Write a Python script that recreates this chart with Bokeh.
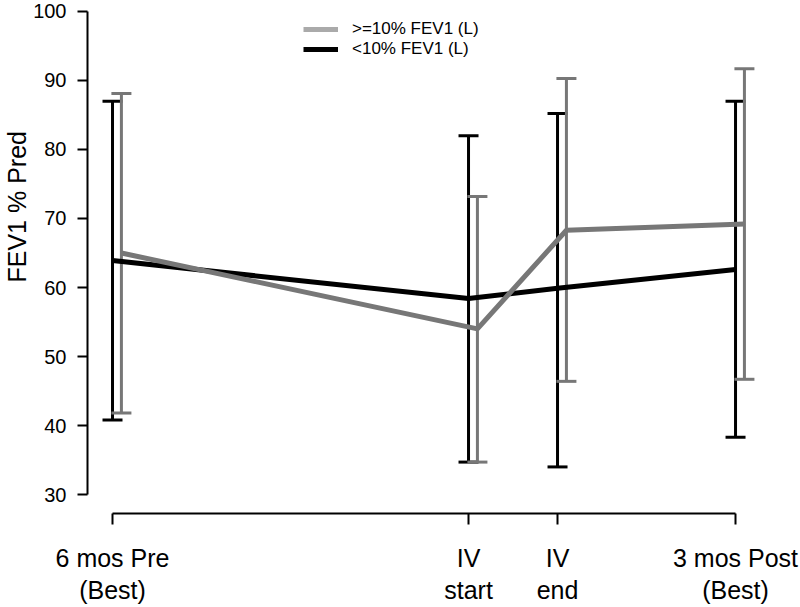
import math
from bokeh.plotting import figure
from bokeh.models import (ColumnDataSource, Whisker, TeeHead, FixedTicker, Legend,
                          LegendItem, Range1d, Title)
from bokeh.embed import file_html
from bokeh.resources import INLINE

# ---- data ----
time_pos = [0, 4, 5, 7]
tick_labels = ["6 mos Pre\n(Best)", "IV\nstart", "IV\nend", "3 mos Post\n(Best)"]
y_ticks = [30, 40, 50, 60, 70, 80, 90, 100]

low_mean = [63.9, 58.4, 59.9, 62.6]      # <10% FEV1 (L)
low_upper = [87.0, 82.0, 85.2, 87.0]
low_lower = [40.8, 34.7, 34.0, 38.3]

high_mean = [65.0, 54.0, 68.3, 69.2]     # >=10% FEV1 (L)
high_upper = [88.1, 73.2, 90.3, 91.7]
high_lower = [41.8, 34.7, 46.4, 46.7]

dodge = 0.1
FONT = "Liberation Sans"
GRAY = "#777777"
GRAY_LEG = "#aaaaaa"
NAN = float("nan")

p = figure(width=800, height=607, output_backend="svg", toolbar_location=None,
           x_range=Range1d(-0.281, 7.73), y_range=Range1d(27.25, 101.59),
           min_border_left=87, min_border_right=0, min_border_top=0, min_border_bottom=94)
p.xgrid.visible = False
p.ygrid.visible = False
p.outline_line_color = None
p.background_fill_color = "white"

src_low = ColumnDataSource(dict(x=time_pos, m=low_mean, up=low_upper, lo=low_lower))
src_high = ColumnDataSource(dict(x=[t + dodge for t in time_pos], m=high_mean,
                                 up=high_upper, lo=high_lower))

for src, col in ((src_low, "black"), (src_high, GRAY)):
    w = Whisker(source=src, base="x", upper="up", lower="lo", dimension="height",
                line_color=col, line_width=3,
                upper_head=TeeHead(size=20, line_color=col, line_width=3),
                lower_head=TeeHead(size=20, line_color=col, line_width=3))
    w.level = "underlay"
    p.add_layout(w)

p.line("x", "m", source=src_low, line_color="black", line_width=5)
p.line("x", "m", source=src_high, line_color=GRAY, line_width=5)

# legend proxies (nothing drawn in the plot area)
leg_high = p.line(x=[NAN], y=[NAN], line_color=GRAY_LEG, line_width=5)
leg_low = p.line(x=[NAN], y=[NAN], line_color="black", line_width=5)
legend = Legend(items=[LegendItem(label=">=10% FEV1 (L)", renderers=[leg_high]),
                       LegendItem(label="<10% FEV1 (L)", renderers=[leg_low])],
                location=(216, 454), border_line_color=None, background_fill_alpha=0,
                padding=0, margin=0, spacing=0, glyph_width=35, glyph_height=20,
                label_height=20, label_standoff=14, label_text_font_size="17px",
                label_text_font=FONT, label_text_color="black")
p.add_layout(legend)

# axes
ya = p.yaxis[0]
ya.ticker = FixedTicker(ticks=y_ticks)
ya.bounds = (30, 100)
ya.major_tick_out = 10
ya.major_tick_in = 0
ya.minor_tick_out = 0
ya.minor_tick_in = 0
ya.axis_line_width = 2
ya.major_tick_line_width = 2
ya.major_label_text_font_size = "20px"
ya.major_label_text_font = FONT
ya.major_label_text_color = "black"
ya.major_label_standoff = 11

ytitle = Title(text="FEV1 % Pred", align="left", offset=231, standoff=0,
               text_font_size="25px", text_font=FONT, text_font_style="normal",
               text_color="black")
p.add_layout(ytitle, "left")

xa = p.xaxis[0]
xa.ticker = FixedTicker(ticks=time_pos)
xa.major_label_overrides = {t: l for t, l in zip(time_pos, tick_labels)}
xa.bounds = (0, 7)
xa.major_tick_out = 11
xa.major_tick_in = 0
xa.minor_tick_out = 0
xa.minor_tick_in = 0
xa.axis_line_width = 2
xa.major_tick_line_width = 2
xa.major_label_text_font_size = "25px"
xa.major_label_text_font = FONT
xa.major_label_text_color = "black"
xa.major_label_text_line_height = 1.15
xa.major_label_standoff = 19

open("out.html", "w").write(file_html(p, INLINE))
